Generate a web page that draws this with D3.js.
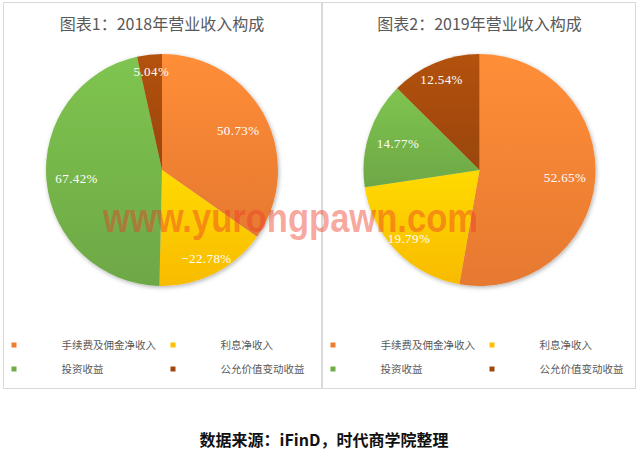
<!DOCTYPE html>
<html><head><meta charset="utf-8">
<script src="https://cdn.jsdelivr.net/npm/d3@7/dist/d3.min.js"></script>
<style>
html,body{margin:0;padding:0;background:#fff;}
svg{display:block;}
</style></head>
<body>
<svg id="chart" width="640" height="457"></svg>
<script>
// ---- data ----
const categories = ["手续费及佣金净收入","利息净收入","投资收益","公允价值变动收益"];
const values2018 = [50.73, -22.78, 67.42, 5.04];
const values2019 = [52.65, 19.79, 14.77, 12.54];
const titles = ["图表1：2018年营业收入构成","图表2：2019年营业收入构成"];
const sourceNote = "数据来源：iFinD，时代商学院整理";
const watermark = "www.yurongpawn.com";
const seriesList = [values2018, values2019];

// ---- styles ----
const colors = ["#ED7D31","#FFC000","#70AD47","#9E480E"];
const cjk = "'Noto Sans CJK SC','Noto Sans',sans-serif";
const numFont = "'Liberation Serif','DejaVu Serif',serif";

const svg = d3.select("#chart");
const defs = svg.append("defs");
colors.forEach((c,i)=>{
  const g = defs.append("linearGradient").attr("id","grad"+i)
    .attr("x1",0).attr("y1",0).attr("x2",0).attr("y2",1);
  g.append("stop").attr("offset","0%").attr("stop-color", d3.color(c).brighter(0.35).formatHex());
  g.append("stop").attr("offset","100%").attr("stop-color", d3.color(c).darker(0.08).formatHex());
});
const f = defs.append("filter").attr("id","shadow").attr("x","-10%").attr("y","-10%").attr("width","125%").attr("height","125%");
f.append("feDropShadow").attr("dx",1).attr("dy",1.5).attr("stdDeviation",2).attr("flood-color","#000").attr("flood-opacity",0.3);

const panels = [{x:3.5,w:318},{x:322.5,w:313}];
const panelTop = 2.5, panelBottom = 388.5;
const radius = 116;
const cy = 170;

const pie = d3.pie().sort(null).value(d=>Math.abs(d)).startAngle(0).endAngle(2*Math.PI);
const arc = d3.arc().innerRadius(0).outerRadius(radius);
const fmt = v => d3.format(".2f")(v) + "%";

panels.forEach((p,pi)=>{
  const g = svg.append("g");
  g.append("rect").attr("x",p.x).attr("y",panelTop).attr("width",p.w).attr("height",panelBottom-panelTop)
    .attr("fill","#fff").attr("stroke","#D9D9D9").attr("stroke-width",1);
  const cx = pi===0 ? 162 : 479.5;
  g.append("text").attr("x",cx).attr("y",30).attr("text-anchor","middle")
    .attr("font-family",cjk).attr("font-size",16).attr("fill","#595959").text(titles[pi]);

  const arcs = pie(seriesList[pi]);
  const pg = g.append("g").attr("transform",`translate(${cx},${cy})`);
  pg.append("g").attr("filter","url(#shadow)").selectAll("path").data(arcs).join("path")
    .attr("d",arc).attr("fill",(d,i)=>`url(#grad${i})`);
  pg.selectAll("text").data(arcs).join("text")
    .each(function(d){
      const mid = (d.startAngle+d.endAngle)/2;
      const k = Math.abs(Math.cos(mid)) < 0.5 ? 0.74 : 0.85;
      d3.select(this).attr("x", Math.sin(mid)*radius*k).attr("y", -Math.cos(mid)*radius*k);
    })
    .attr("text-anchor","middle").attr("dominant-baseline","central")
    .attr("font-family",numFont).attr("font-size",13).attr("letter-spacing",0.4)
    .attr("fill","#fff").text(d=>fmt(d.data));

  // legend
  categories.forEach((c,i)=>{
    const col = i%2, row = Math.floor(i/2);
    const mx = p.x + 8 + col*159;
    const y = 345 + row*24;
    g.append("rect").attr("x",mx).attr("y",y-2.5).attr("width",5).attr("height",5).attr("fill",colors[i]);
    g.append("text").attr("x",mx+50).attr("y",y+4).attr("font-family",cjk).attr("font-size",10.5)
      .attr("fill","#595959").text(c);
  });
});

svg.append("text").attr("x",324).attr("y",446).attr("text-anchor","middle")
  .attr("font-family",cjk).attr("font-size",16).attr("font-weight","bold").attr("fill","#111").text(sourceNote);

svg.append("text").attr("x",103).attr("y",232).attr("font-family","'Liberation Sans',Arial,sans-serif")
  .attr("font-size",40).attr("font-weight","bold").attr("textLength",375).attr("lengthAdjust","spacingAndGlyphs")
  .attr("fill","rgb(238,60,40)").attr("fill-opacity",0.45).text(watermark);
</script>
</body></html>
